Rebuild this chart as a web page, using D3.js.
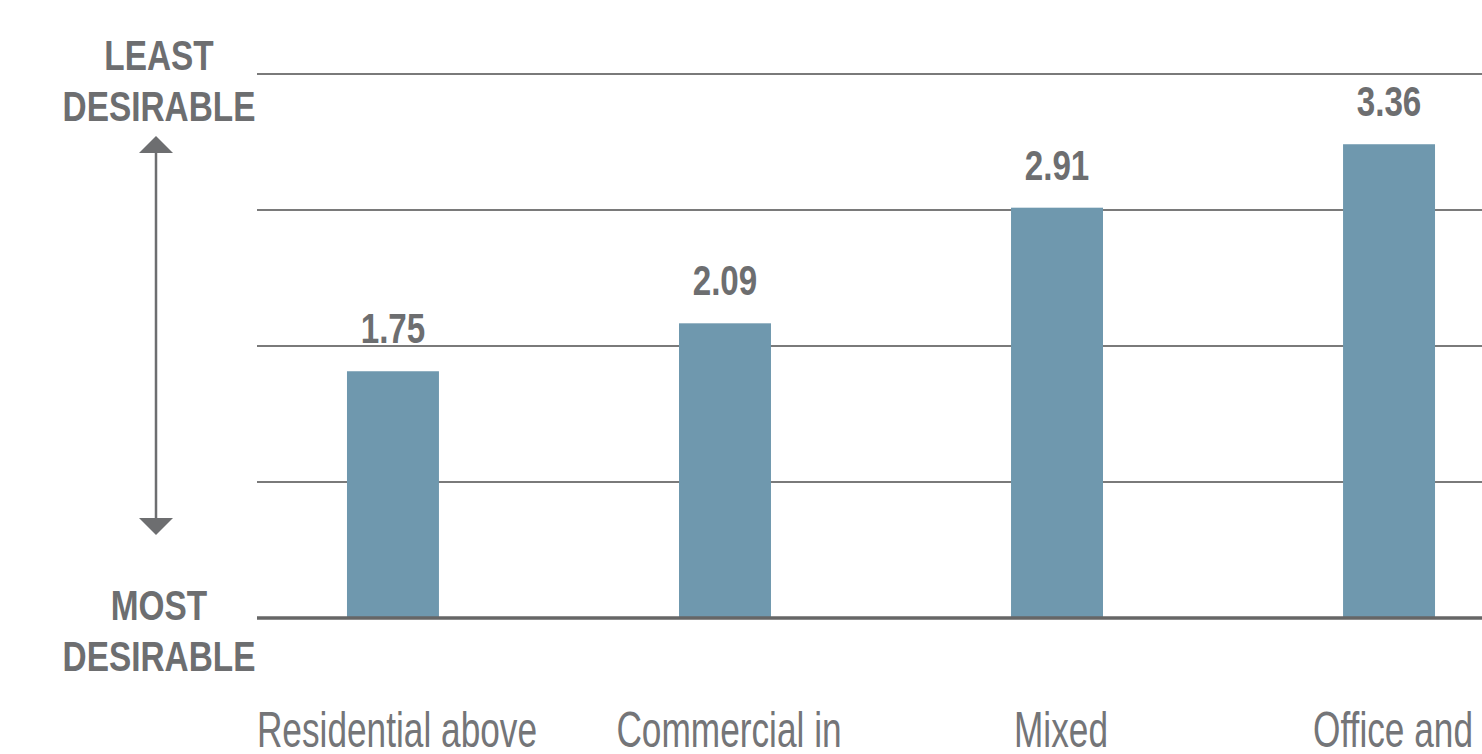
<!DOCTYPE html>
<html>
<head>
<meta charset="utf-8">
<script src="https://cdn.jsdelivr.net/npm/d3@7"></script>
<style>
  body { margin: 0; background: #fff; }
  svg { display: block; }
</style>
</head>
<body>
<div id="chart-area"></div>
<script>
// chart data
var categories = ["Residential above", "Commercial in", "Mixed", "Office and"];
var scores = [1.75, 2.09, 2.91, 3.36];
var gridValues = [0, 1, 2, 3, 4];
var topLabel = ["LEAST", "DESIRABLE"];
var bottomLabel = ["MOST", "DESIRABLE"];

var width = 1482;
var height = 754;
var left = 257;
var baseY = 618;
var grey = "#6d6e70";
var barColor = "#6f98ae";
var font = "'Liberation Sans', Arial, sans-serif";

var svg = d3.select("#chart-area").append("svg")
    .attr("width", width)
    .attr("height", height);

// x band scale
var x = d3.scaleBand()
    .domain(categories)
    .range([left, 1525])
    .paddingInner(0.723)
    .paddingOuter(0.271);

// bars and gridlines don't share a unit size in the original
var y = d3.scaleLinear()
    .domain([0, 4])
    .range([baseY, baseY - 4 * 141]);

var yGrid = d3.scaleLinear()
    .domain([0, 4])
    .range([baseY, 74]);

// squeeze text sideways to imitate the condensed face
function squeeze(cx, cy, s) {
    return "translate(" + cx + "," + cy + ") scale(" + s + ",1)";
}

// gridlines
svg.selectAll("line.grid")
    .data(gridValues.filter((d) => d > 0))
    .enter()
    .append("line")
    .attr("class", "grid")
    .attr("x1", left)
    .attr("x2", width)
    .attr("y1", (d) => yGrid(d))
    .attr("y2", (d) => yGrid(d))
    .attr("stroke", "#7a7a7a")
    .attr("stroke-width", 2);

// bars
svg.selectAll("rect")
    .data(scores)
    .enter()
    .append("rect")
    .attr("x", (d, i) => x(categories[i]))
    .attr("y", (d) => y(d))
    .attr("width", x.bandwidth())
    .attr("height", (d) => baseY - y(d))
    .attr("fill", barColor);

// baseline
svg.append("line")
    .attr("x1", left)
    .attr("x2", width)
    .attr("y1", yGrid(0))
    .attr("y2", yGrid(0))
    .attr("stroke", "#666")
    .attr("stroke-width", 3.5);

// value labels
svg.selectAll("text.value")
    .data(scores)
    .enter()
    .append("text")
    .attr("class", "value")
    .attr("transform", (d, i) => squeeze(x(categories[i]) + x.bandwidth() / 2, y(d) - 28, 0.79))
    .attr("text-anchor", "middle")
    .attr("font-family", font)
    .attr("font-weight", "bold")
    .attr("font-size", 42)
    .attr("fill", grey)
    .text((d) => d.toFixed(2));

// category labels (second lines fall below the frame)
svg.selectAll("text.cat")
    .data(categories)
    .enter()
    .append("text")
    .attr("class", "cat")
    .attr("transform", (d) => squeeze(x(d) + x.bandwidth() / 2 + 4, 747, 0.705))
    .attr("text-anchor", "middle")
    .attr("font-family", font)
    .attr("font-size", 50)
    .attr("fill", "#747578")
    .text((d) => d);

// axis end labels
function endLabel(lines, y0) {
    svg.selectAll(null)
        .data(lines)
        .enter()
        .append("text")
        .attr("transform", (d, i) => squeeze(159, y0 + i * 51, 0.795))
        .attr("text-anchor", "middle")
        .attr("font-family", font)
        .attr("font-weight", "bold")
        .attr("font-size", 42)
        .attr("fill", grey)
        .text((d) => d);
}
endLabel(topLabel, 70);
endLabel(bottomLabel, 620);

// double arrow
var ax = 156;
svg.append("line")
    .attr("x1", ax).attr("x2", ax)
    .attr("y1", 150).attr("y2", 520)
    .attr("stroke", grey)
    .attr("stroke-width", 2.5);

svg.append("path")
    .attr("d", "M" + (ax - 17) + ",153L" + ax + ",136L" + (ax + 17) + ",153Z")
    .attr("fill", grey);

svg.append("path")
    .attr("d", "M" + (ax - 17) + ",518L" + ax + ",535L" + (ax + 17) + ",518Z")
    .attr("fill", grey);
</script>
</body>
</html>
